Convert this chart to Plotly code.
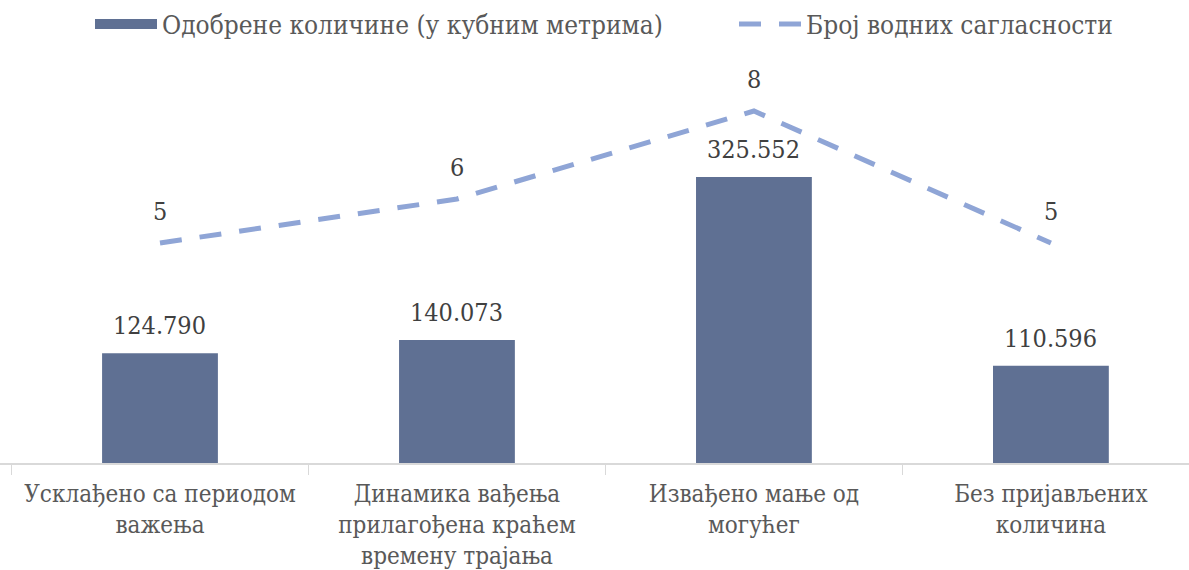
import plotly.graph_objects as go

categories = [
    "Усклађено са периодом<br>важења",
    "Динамика вађења<br>прилагођена краћем<br>времену трајања",
    "Извађено мање од<br>могућег",
    "Без пријављених<br>количина",
]
approved_volumes = [124790, 140073, 325552, 110596]
water_consents = [5, 6, 8, 5]

bar_name = "Одобрене количине (у кубним метрима)"
line_name = "Број водних сагласности"

FONT = "DejaVu Serif Condensed, DejaVu Serif"
BAR_COLOR = "#5F7093"
LINE_COLOR = "#8FA5D6"
DASH = "22px,18px"

fig = go.Figure()
fig.add_trace(go.Bar(
    x=categories, y=approved_volumes, name=bar_name,
    marker=dict(color=BAR_COLOR, line=dict(width=0)),
    width=0.39, showlegend=False,
))
# legend proxy for the bar series (wide rectangle symbol as in the reference)
fig.add_trace(go.Scatter(
    x=[None], y=[None], name=bar_name, mode="lines",
    line=dict(color=BAR_COLOR, width=11), showlegend=True, legend="legend",
))
fig.add_trace(go.Scatter(
    x=categories, y=water_consents, name=line_name, yaxis="y2",
    mode="lines", legend="legend2",
    line=dict(color=LINE_COLOR, width=5, dash=DASH),
    cliponaxis=False,
))

fmt = lambda v: f"{v:,}".replace(",", ".")
annotations = []
for c, v in zip(categories, approved_volumes):
    annotations.append(dict(x=c, y=v, xref="x", yref="y", text=fmt(v), showarrow=False,
                            yanchor="bottom", yshift=11,
                            font=dict(family=FONT, size=25, color="#404040")))
for c, v in zip(categories, water_consents):
    annotations.append(dict(x=c, y=v, xref="x", yref="y2", text=str(v), showarrow=False,
                            yanchor="bottom", yshift=15,
                            font=dict(family=FONT, size=25, color="#404040")))

plot_top = 60
plot_bottom = 463
H = 570
height_px = plot_bottom - plot_top
y1_max = height_px / (286 / 325552)
y2_max = height_px / 44.0

legend_common = dict(orientation="h", xanchor="left", yref="container", y=1 - 24 / H,
                     yanchor="middle", font=dict(family=FONT, size=26, color="#595959"),
                     itemwidth=62, bgcolor="rgba(0,0,0,0)")

fig.update_layout(
    width=1189, height=H,
    margin=dict(l=0, r=0, t=plot_top, b=H - plot_bottom, autoexpand=False),
    paper_bgcolor="white", plot_bgcolor="white",
    font=dict(family=FONT, size=24, color="#595959"),
    showlegend=True,
    annotations=annotations,
    legend=dict(x=90 / 1189, **legend_common),
    legend2=dict(x=734 / 1189, **legend_common),
    xaxis=dict(
        type="category", range=[-0.5 - 11.5 / 297, 3.465], automargin=False,
        showline=True, linecolor="#D9D9D9", linewidth=1.5,
        ticks="outside", tickson="boundaries", ticklen=10, tickcolor="#D9D9D9",
        ticklabelstandoff=8,
        tickfont=dict(family=FONT, size=24, color="#595959"),
        showgrid=False,
    ),
    yaxis=dict(range=[0, y1_max], visible=False, showgrid=False),
    yaxis2=dict(range=[0, y2_max], visible=False, overlaying="y", side="right", showgrid=False),
)

fig.write_html("out.html", config={"displayModeBar": False},
               post_script="document.body.style.margin='0';")
